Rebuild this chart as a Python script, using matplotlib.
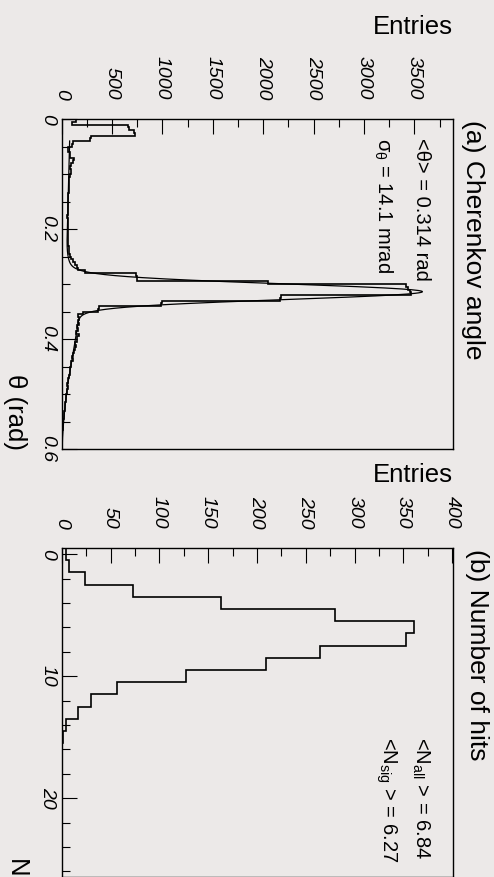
import numpy as np
import matplotlib.pyplot as plt
from matplotlib.ticker import MultipleLocator, FormatStrFormatter

plt.rcParams['font.family'] = ['Liberation Sans', 'DejaVu Sans']
plt.rcParams['mathtext.fontset'] = 'custom'
plt.rcParams['mathtext.rm'] = 'Liberation Sans'
plt.rcParams['mathtext.it'] = 'Liberation Sans'
plt.rcParams['mathtext.bf'] = 'Liberation Sans:bold'

W, H = 494, 877
BG = '#ece9e8'

# (a) reconstructed Cherenkov angle, 0.005 rad bins from 0 to 0.6 rad
theta_edges = np.linspace(0.0, 0.6, 121)
theta_counts = [
    140, 106, 660, 668, 720, 725, 290, 280, 110, 102,
    65, 62, 86, 84, 119, 116, 89, 85, 92, 88,
    78, 72, 76, 70, 74, 68, 72, 66,
    64, 62, 66, 60, 63, 58, 61, 57, 60, 62, 58, 61, 59, 63, 60, 64, 62, 66, 68, 72, 75, 80,
    95, 110, 130, 150, 160, 230, 735, 745, 750,
    2050, 3420, 3440, 3455, 3470, 2180, 2170, 1000, 990,
    370, 365, 211, 161, 175, 165, 170, 155,
    160, 145, 170, 150,
    150, 135, 145, 128, 120,
    115, 100, 108, 92, 95,
    85, 78, 82, 70, 65,
    60, 55, 58, 50, 48,
    44, 40, 38, 35, 32,
    28, 25, 22, 18, 15,
    12, 9, 8, 5, 4,
    3, 2, 2, 1, 1,
]

# fit: gaussian core + asymmetric wide tail + linear background
theta_mean = 0.314
theta_sigma = 0.0141
core_amp = 3390
tail_amp = 150
tail_sigma_left = 0.03
tail_sigma_right = 0.11
bkg_p0, bkg_p1 = 84.6, -146.0

# (b) number of hits per ring
nhits_edges = np.arange(-0.5, 16.5, 1.0)
nhits_counts = [4, 7.5, 24, 73, 163, 280, 361, 353, 265, 209, 127, 57, 30, 17, 4.4, 1.7]
mean_all = 6.84
mean_sig = 6.27


def fit_func(t):
    d = t - theta_mean
    core = core_amp * np.exp(-0.5 * (d / theta_sigma) ** 2)
    s = np.where(d < 0, tail_sigma_left, tail_sigma_right)
    tail = tail_amp * np.exp(-0.5 * (d / s) ** 2)
    bkg = np.clip(bkg_p0 + bkg_p1 * t, 0, None)
    return core + tail + bkg


def px_axes(fig, x0, y0, x1, y1):
    return fig.add_axes([x0 / W, 1 - y1 / H, (x1 - x0) / W, (y1 - y0) / H])


def style(ax, xmax, ylo, yhi, xmaj, xmin, ymaj, ymin, yfmt):
    ax.set_facecolor(BG)
    ax.set_xlim(0, xmax)
    ax.set_ylim(yhi, ylo)
    ax.xaxis.tick_top()
    ax.xaxis.set_major_locator(MultipleLocator(xmaj))
    ax.xaxis.set_minor_locator(MultipleLocator(xmin))
    ax.yaxis.set_major_locator(MultipleLocator(ymaj))
    ax.yaxis.set_minor_locator(MultipleLocator(ymin))
    ax.xaxis.set_major_formatter(FormatStrFormatter('%d'))
    ax.yaxis.set_major_formatter(FormatStrFormatter(yfmt))
    ax.tick_params(which='both', direction='in', top=True, bottom=False,
                   left=True, right=False, width=0.8, color='black')
    ax.tick_params(which='major', length=10.8)
    ax.tick_params(which='minor', length=5.4)
    ax.tick_params(axis='x', which='major', pad=14, labelsize=14, labelrotation=270)
    ax.tick_params(axis='y', which='major', pad=4, labelsize=14, labelrotation=270)
    for lbl in ax.get_xticklabels() + ax.get_yticklabels():
        lbl.set_fontstyle('italic')
    for lbl in ax.get_yticklabels():
        lbl.set_va('center')
    for sp in ax.spines.values():
        sp.set_linewidth(1.0)


fig = plt.figure(figsize=(W / 100, H / 100), dpi=100, facecolor=BG)

# panel (a)
ax1 = px_axes(fig, 61.7, 119, 453.3, 449)
style(ax1, 3885, 0.0, 0.6, 500, 250, 0.2, 0.05, '%g')
ax1.stairs(theta_counts, theta_edges, orientation='horizontal', color='black', lw=1.2)
t = np.linspace(0.04, 0.6, 1200)
ax1.plot(fit_func(t), t, color='black', lw=0.9)

# panel (b)
ax2 = px_axes(fig, 61.7, 548, 453.3, 877.4)
style(ax2, 401, -0.5, 26.5, 50, 25, 10, 2, '%d')
ax2.stairs(nhits_counts, nhits_edges, orientation='horizontal', color='black', lw=1.2)


def ftext(x, y, s, **kw):
    fig.text(x / W, 1 - y / H, s, **kw)


ftext(453, 27, 'Entries', ha='right', va='center', fontsize=18.5)
ftext(453, 475, 'Entries', ha='right', va='center', fontsize=18.5)
ftext(473, 120, '(a) Cherenkov angle', rotation=270, ha='center', va='top', fontsize=19)
ftext(477, 549, '(b) Number of hits', rotation=270, ha='center', va='top', fontsize=19)
ftext(15, 450, 'θ (rad)', rotation=270, ha='center', va='bottom', fontsize=18.5)
ftext(16, 877.4, 'N', rotation=270, ha='center', va='bottom', fontsize=18.5)

ftext(422, 138, '<θ> = %.3f rad' % theta_mean, rotation=270, ha='center', va='top', fontsize=14.5)
ftext(383, 138, r'$\sigma_{\theta}$ = %.1f mrad' % (theta_sigma * 1000), rotation=270,
      ha='center', va='top', fontsize=14.5)
ftext(421, 737, r'<N$_{\mathrm{all}}$ > = %.2f' % mean_all, rotation=270, ha='center', va='top',
      fontsize=14.5)
ftext(386, 737, r'<N$_{\mathrm{sig}}$ > = %.2f' % mean_sig, rotation=270, ha='center', va='top',
      fontsize=14.5)

fig.savefig('out.png', dpi=100, facecolor=BG)
